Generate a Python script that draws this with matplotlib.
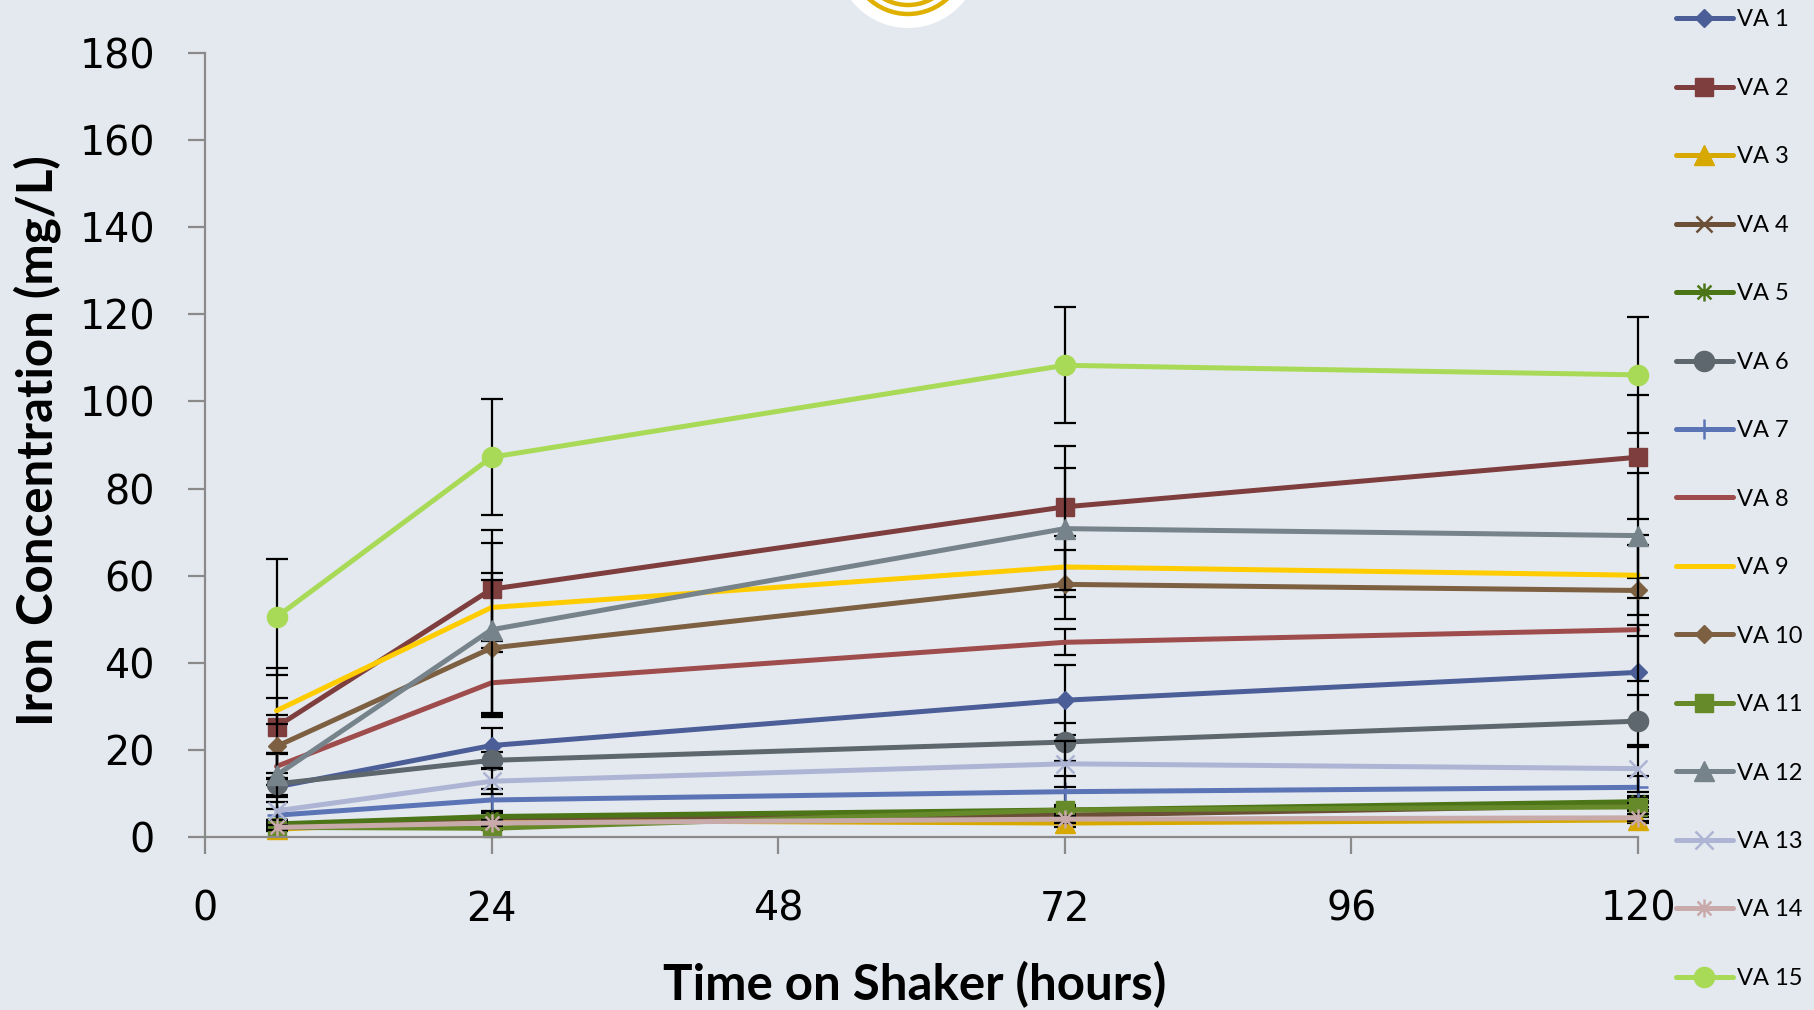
import numpy as np
import matplotlib
matplotlib.use("Agg")
import matplotlib.pyplot as plt
from matplotlib.path import Path
from matplotlib.patches import Circle, Arc

# time points (hours)
hours = [6, 24, 72, 120]

va1 = [11.5, 21.0, 31.4, 37.8]
va2 = [25.3, 56.9, 75.8, 87.2]
va3 = [1.8, 3.8, 3.2, 3.9]
va4 = [2.5, 4.4, 5.0, 7.3]
va5 = [3.0, 4.7, 6.2, 8.1]
va6 = [12.2, 17.6, 21.8, 26.6]
va7 = [5.0, 8.5, 10.4, 11.4]
va8 = [16.2, 35.4, 44.7, 47.6]
va9 = [29.0, 52.7, 62.0, 60.1]
va10 = [20.8, 43.4, 58.0, 56.6]
va11 = [2.2, 2.0, 6.2, 6.9]
va12 = [14.2, 47.6, 70.8, 69.2]
va13 = [6.0, 12.8, 16.8, 15.7]
va14 = [2.2, 3.2, 4.1, 4.4]
va15 = [50.5, 87.2, 108.3, 106.1]

# standard deviations (error bars)
err1 = [7.5, 4.0, 8.0, 10.9]
err2 = [13.4, 13.6, 14.0, 14.3]
err3 = [0.5, 0.8, 0.8, 0.8]
err4 = [0.6, 1.0, 1.0, 1.0]
err5 = [0.8, 1.0, 1.2, 1.2]
err6 = [2.5, 2.0, 4.4, 6.0]
err7 = [1.5, 2.5, 3.5, 2.5]
err8 = [3.0, 7.0, 3.0, 11.8]
err9 = [3.0, 7.8, 7.0, 9.2]
err10 = [7.3, 15.5, 8.0, 10.4]
err11 = [0.5, 0.5, 1.0, 1.0]
err12 = [5.0, 20.0, 14.0, 14.3]
err13 = [2.0, 3.0, 5.3, 5.4]
err14 = [0.5, 0.7, 0.8, 0.8]
err15 = [13.3, 13.3, 13.3, 13.3]

labels = ['VA 1', 'VA 2', 'VA 3', 'VA 4', 'VA 5', 'VA 6', 'VA 7', 'VA 8',
          'VA 9', 'VA 10', 'VA 11', 'VA 12', 'VA 13', 'VA 14', 'VA 15']
values = [va1, va2, va3, va4, va5, va6, va7, va8, va9, va10, va11, va12, va13, va14, va15]
errors = [err1, err2, err3, err4, err5, err6, err7, err8, err9, err10, err11, err12, err13, err14, err15]

# asterisk marker like Excel's "star"
star = Path([(-1, -1), (1, 1), (-1, 1), (1, -1), (0, -1.3), (0, 1.3)],
            [Path.MOVETO, Path.LINETO, Path.MOVETO, Path.LINETO, Path.MOVETO, Path.LINETO])

colors = ['#4B5E97', '#7E3E3E', '#D6A800', '#6B4F37', '#4C7518', '#5E676E', '#5B74B6',
          '#9E4C4C', '#FFCC00', '#7D6042', '#66892A', '#77838A', '#AEB5D4', '#C9AAAA', '#A9DA57']
markers = ['D', 's', '^', 'x', star, 'o', '+', None, None, 'D', 's', '^', 'x', star, 'o']
msizes = [9.5, 13, 14, 12, 13, 14.5, 14, 0, 0, 9.5, 13, 14, 13, 13, 14.5]

bg = '#E4E9EF'
axis_gray = '#8A8A8A'

fig = plt.figure(figsize=(18.15, 10.10), dpi=100, facecolor=bg)
ax = fig.add_axes([0.1129, 0.1713, 0.7896, 0.7762], facecolor=bg)

handles = []
for i in range(len(labels)):
    ax.errorbar(hours, values[i], yerr=errors[i], fmt='none', ecolor='black',
                elinewidth=1.6, capsize=8, capthick=1.6, zorder=2 + i * 0.01, clip_on=False)
    m = markers[i]
    line, = ax.plot(hours, values[i], color=colors[i], lw=3.6, marker=m,
                    markersize=msizes[i], markerfacecolor=colors[i], markeredgecolor=colors[i],
                    markeredgewidth=1.8 if m in ('x', '+') or m is star else 1,
                    solid_capstyle='round', label=labels[i], zorder=2.005 + i * 0.01, clip_on=False)
    handles.append(line)

ax.set_xlim(0, 120)
ax.set_ylim(0, 180)
ax.set_xticks([0, 24, 48, 72, 96, 120])
ax.set_yticks(np.arange(0, 181, 20))

for s in ['top', 'right']:
    ax.spines[s].set_visible(False)
for s in ['left', 'bottom']:
    ax.spines[s].set_color(axis_gray)
    ax.spines[s].set_linewidth(1.6)

ax.tick_params(axis='both', direction='out', length=12, width=1.6, color=axis_gray,
               labelsize=28.5, labelcolor='black')
ax.tick_params(axis='y', pad=24)
ax.tick_params(axis='x', pad=26)
for lab in ax.get_xticklabels() + ax.get_yticklabels():
    lab.set_fontfamily('DejaVu Sans')

fig.text(0.0204, 0.5634, 'Iron Concentration (mg/L)', rotation=90, ha='center', va='center',
         fontsize=35.5, fontweight='bold', family=['Lato', 'DejaVu Sans'])
fig.text(0.5037, 1 - 985 / 1010, 'Time on Shaker (hours)', ha='center', va='center',
         fontsize=35.5, fontweight='bold', family=['Lato', 'DejaVu Sans'])

leg = fig.legend(handles=handles, loc='upper left', bbox_to_anchor=(1676 / 1815, 1 - 9.5 / 1010),
                 frameon=False, borderpad=0, borderaxespad=0, handlelength=2.4,
                 handletextpad=0.2, labelspacing=2.01, prop={'family': 'Lato', 'size': 17})

# logo peeking in at the top
ov = fig.add_axes([0, 0, 1, 1], facecolor='none')
ov.set_xlim(0, 1815)
ov.set_ylim(1010, 0)
ov.axis('off')
ov.add_patch(Circle((908, -44), 72, facecolor='white', edgecolor='none'))
for r in (49, 58):
    ov.add_patch(Arc((908, -44), 2 * r, 2 * r, theta1=0, theta2=180, color='#E0B000', lw=3.2))

fig.savefig('out.png', dpi=100, facecolor=bg)
